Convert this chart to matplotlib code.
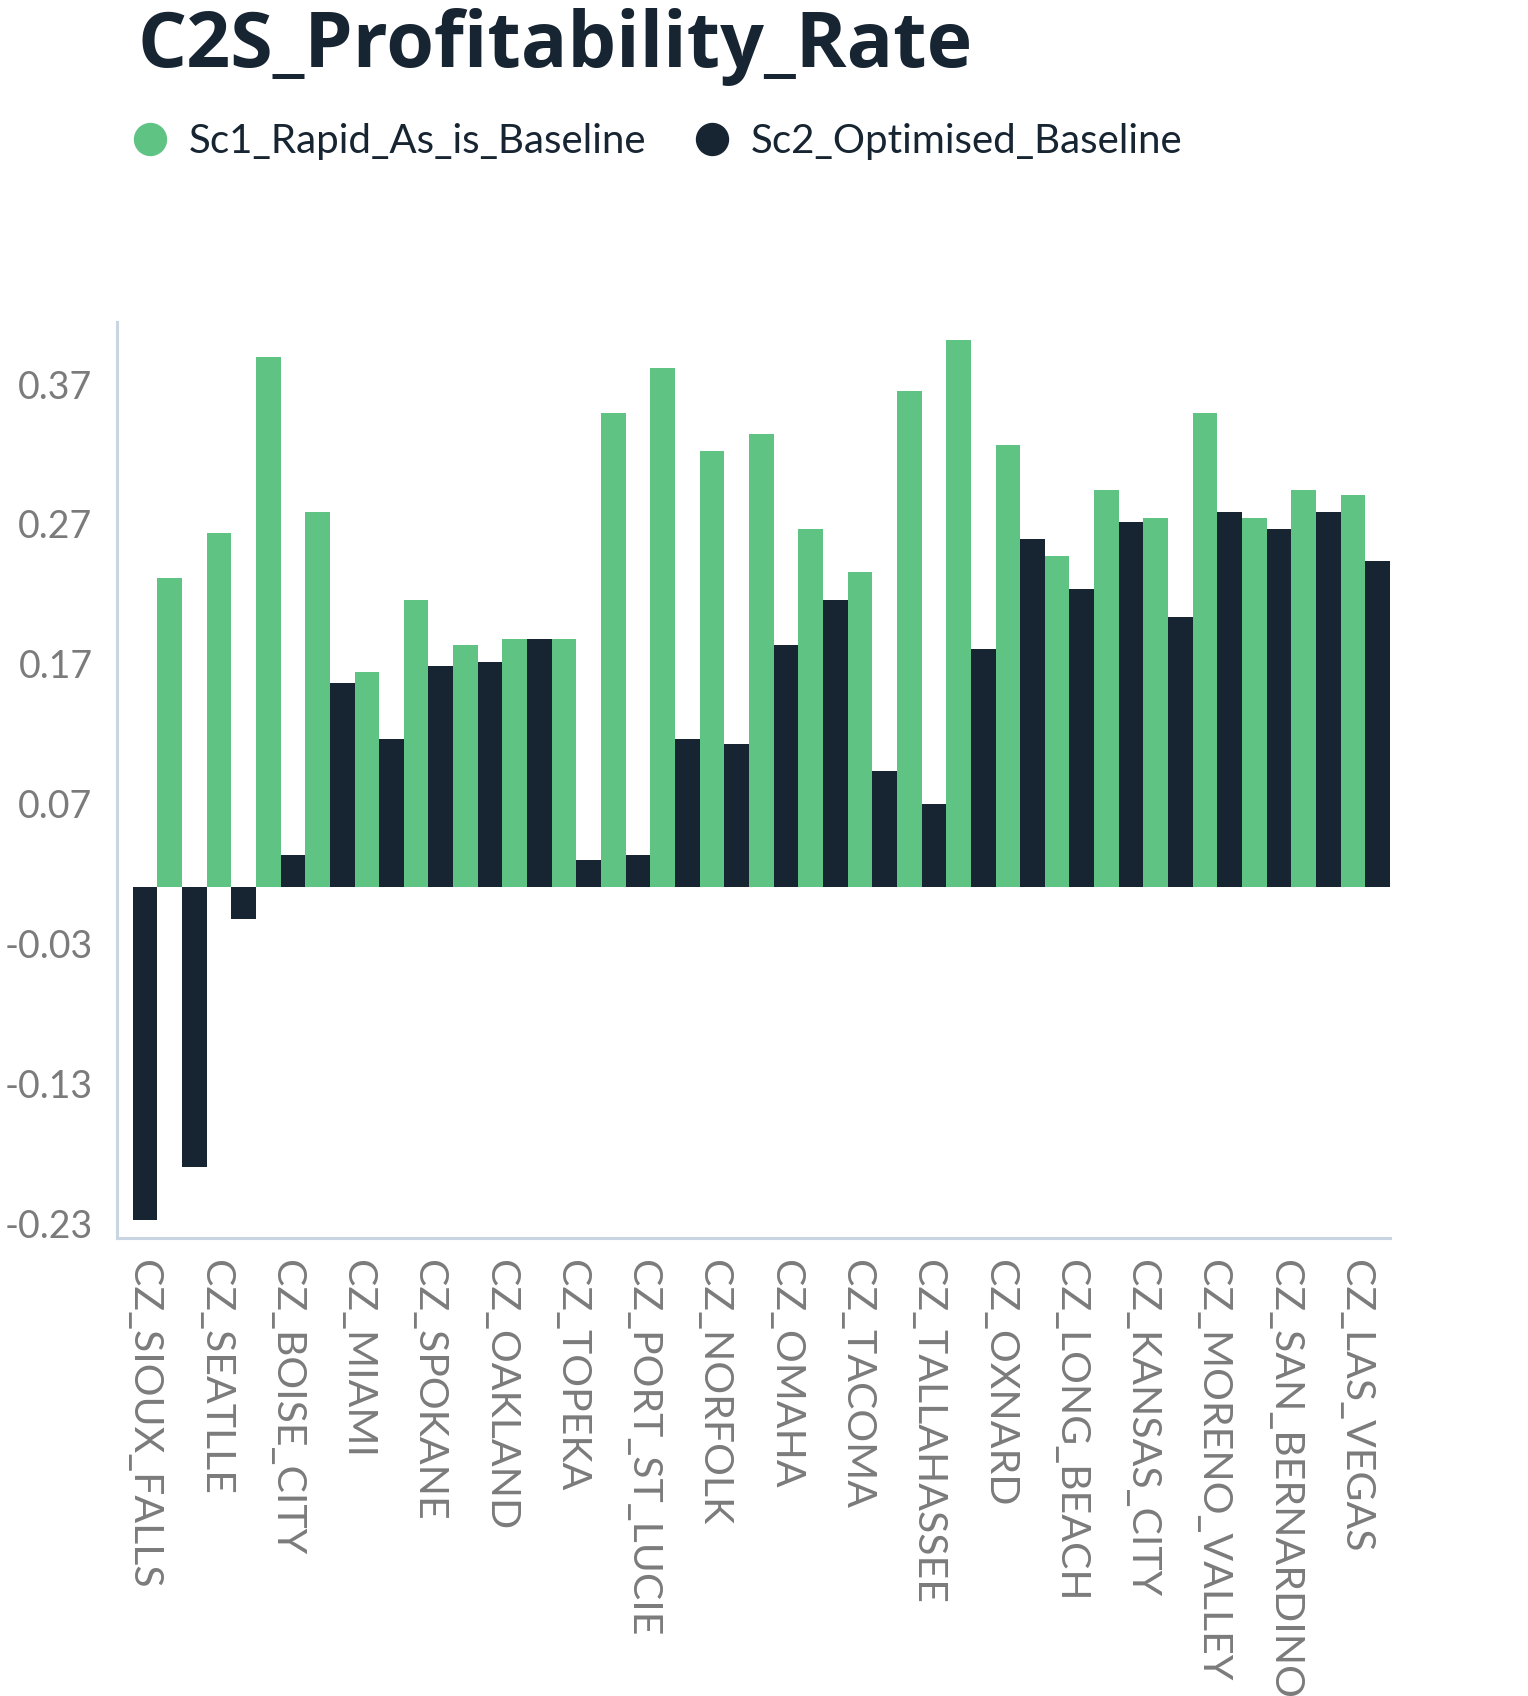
import numpy as np
import matplotlib
matplotlib.use("Agg")
import matplotlib.pyplot as plt
from matplotlib.lines import Line2D

plt.rcParams['font.family'] = ['Lato', 'DejaVu Sans']

# data
title = "C2S_Profitability_Rate"
series_names = ["Sc1_Rapid_As_is_Baseline", "Sc2_Optimised_Baseline"]
cities = ["CZ_SIOUX_FALLS", "CZ_SEATLLE", "CZ_BOISE_CITY", "CZ_MIAMI", "CZ_SPOKANE",
          "CZ_OAKLAND", "CZ_TOPEKA", "CZ_PORT_ST_LUCIE", "CZ_NORFOLK", "CZ_OMAHA",
          "CZ_TACOMA", "CZ_TALLAHASSEE", "CZ_OXNARD", "CZ_LONG_BEACH", "CZ_KANSAS_CITY",
          "CZ_MORENO_VALLEY", "CZ_SAN_BERNARDINO", "CZ_LAS_VEGAS"]

# green bars sit in the odd slots, dark bars in the even slots
sc1 = [0.221, 0.253, 0.379, 0.268, 0.154, 0.205, 0.173, 0.177, 0.177, 0.339,
       0.371, 0.312, 0.324, 0.256, 0.225, 0.355, 0.391, 0.316, 0.237, 0.284,
       0.264, 0.339, 0.264, 0.284, 0.280]
sc2 = [-0.238, -0.200, -0.023, 0.023, 0.146, 0.106, 0.158, 0.161, 0.177, 0.019,
       0.023, 0.106, 0.102, 0.173, 0.205, 0.083, 0.059, 0.170, 0.249, 0.213,
       0.261, 0.193, 0.268, 0.256, 0.268, 0.233]

ytick_vals = [-0.23, -0.13, -0.03, 0.07, 0.17, 0.27, 0.37]
ytick_text = ["-0.23", "-0.13", "-0.03", "0.07", "0.17", "0.27", "0.37"]

green = '#5FC384'
dark = '#172532'
axis_col = '#C9D5E2'
tick_col = '#7B7B7B'

W, H = 1528, 1696
fig = plt.figure(figsize=(W / 100, H / 100), dpi=100)
ax = fig.add_axes([116.6 / W, 1 - 1238 / H, (1390 - 116.6) / W, (1238 - 322) / H])

ax.bar(np.arange(1, 2 * len(sc1), 2), sc1, width=1.0, align='edge', color=green, linewidth=0)
ax.bar(np.arange(0, 2 * len(sc2), 2), sc2, width=1.0, align='edge', color=dark, linewidth=0)

ax.set_xlim(-0.65, 51.0)
ax.set_ylim(-0.251, 0.404)

for s in ['top', 'right']:
    ax.spines[s].set_visible(False)
for s in ['left', 'bottom']:
    ax.spines[s].set_color(axis_col)
    ax.spines[s].set_linewidth(2.2)

ax.set_yticks(ytick_vals)
ax.set_yticklabels(ytick_text)
ax.tick_params(axis='y', length=0, pad=17.3, labelsize=27, labelcolor=tick_col)
for lbl in ax.get_yticklabels():
    lbl.set_va('top')

ax.set_xticks(np.linspace(0.45, 49.6, len(cities)))
ax.set_xticklabels(cities, rotation=-90, va='top', ha='center')
ax.tick_params(axis='x', length=0, pad=15.5, labelsize=29.5, labelcolor=tick_col)

fig.text(137 / W, 1 - 67 / H, title, fontsize=55.5, fontweight='bold', color=dark,
         va='baseline', family=['Open Sans', 'DejaVu Sans'])

handles = [Line2D([], [], marker='o', ls='', markersize=23, color=green),
           Line2D([], [], marker='o', ls='', markersize=23, color=dark)]
fig.legend(handles, series_names, loc='center left', bbox_to_anchor=(130 / W, 1 - 141.5 / H),
           ncol=2, frameon=False, fontsize=29, labelcolor=dark, borderpad=0,
           handlelength=1.0, handletextpad=0.45, columnspacing=1.15, borderaxespad=0)

fig.savefig('out.png', dpi=100)
